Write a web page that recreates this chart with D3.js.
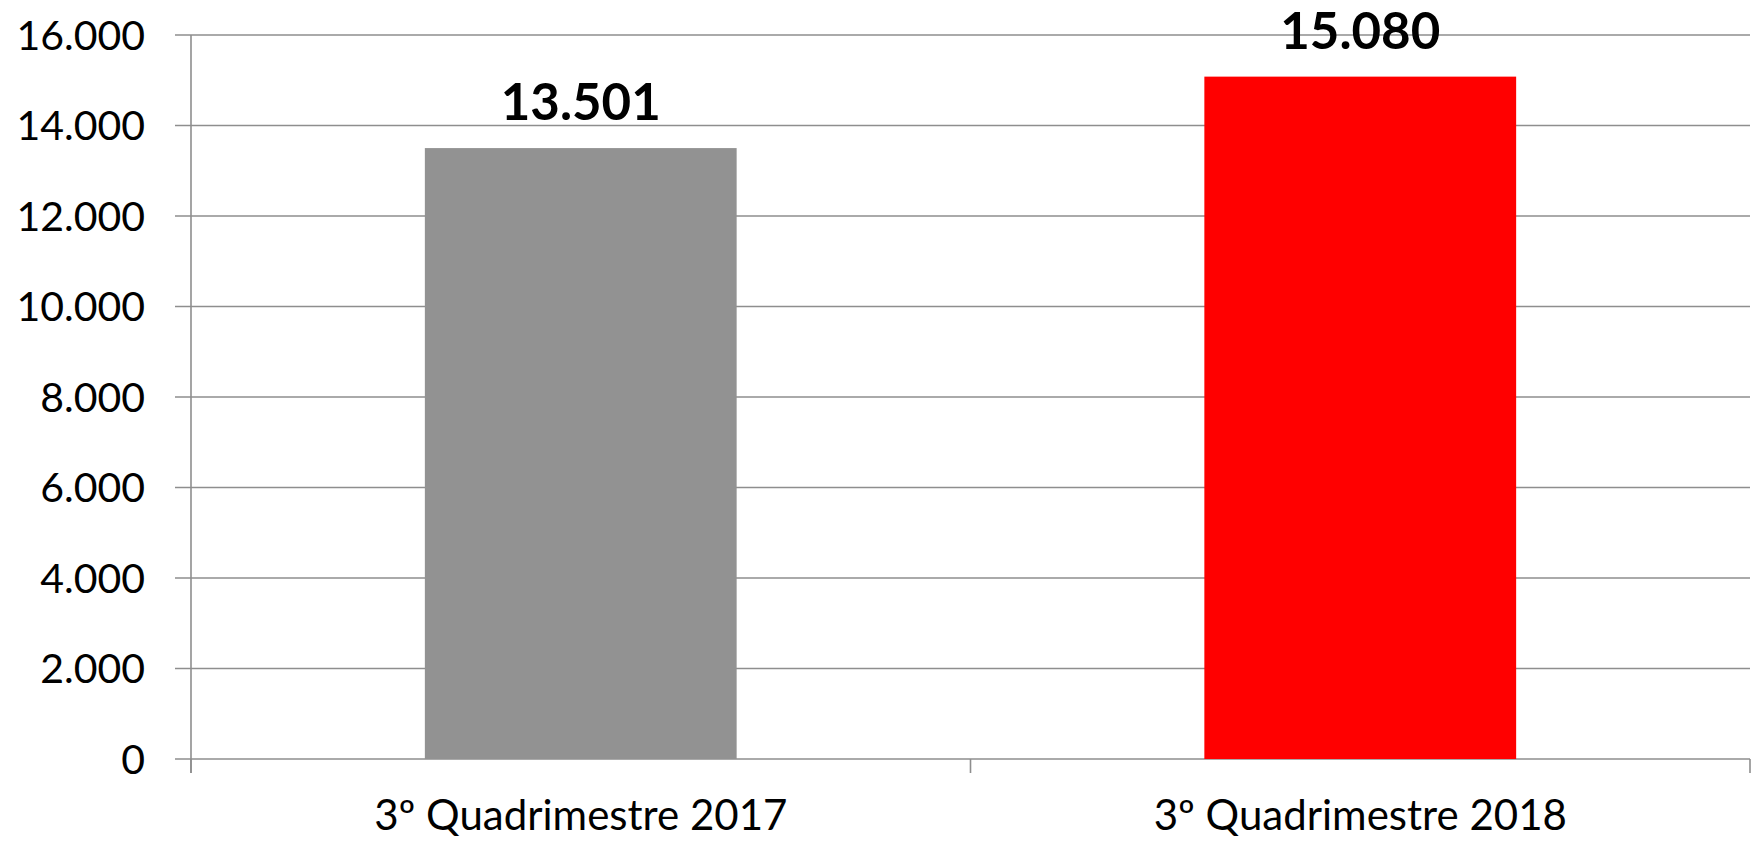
<!DOCTYPE html>
<html>
	<head>
		<meta charset="utf-8">
		<title>Quadrimestre</title>
		<style>
			body {
				margin: 0;
				background: #fff;
			}
			text {
				font-family: Lato, "Open Sans", sans-serif;
				fill: #000;
			}
			.grid line, .axis line {
				stroke: #8e8e8e;
				stroke-width: 1.6;
			}
		</style>
	</head>
	<body>
		<script src="https://cdnjs.cloudflare.com/ajax/libs/d3/7.8.5/d3.min.js"></script>
		<script>
			var categories = ["3º Quadrimestre 2017", "3º Quadrimestre 2018"];
			var values = [13501, 15080];
			var barColors = ["#929292", "#ff0000"];
			var yTicks = [0, 2000, 4000, 6000, 8000, 10000, 12000, 14000, 16000];

			var width = 1757;
			var height = 841;
			var margin = {top: 35, right: 7, bottom: 82, left: 191};
			var innerW = width - margin.left - margin.right;
			var innerH = height - margin.top - margin.bottom;

			var fmt = d3.formatLocale({decimal: ",", thousands: ".", grouping: [3], currency: ["", ""]}).format(",d");

			var svg = d3.select('body').append('svg')
						.attr('width', width)
						.attr('height', height);
			var g = svg.append('g')
						.attr('transform', 'translate(' + margin.left + ',' + margin.top + ')');

			var x = d3.scaleBand()
						.domain(categories)
						.range([0, innerW])
						.paddingInner(0.6)
						.paddingOuter(0.3);
			var y = d3.scaleLinear()
						.domain([0, 16000])
						.range([innerH, 0]);

			// horizontal grid lines, they also stick out left as ticks
			g.append('g').attr('class', 'grid')
				.selectAll('line').data(yTicks).enter().append('line')
				.attr('x1', -16)
				.attr('x2', innerW)
				.attr('y1', function(d) { return y(d); })
				.attr('y2', function(d) { return y(d); });

			// y axis line
			g.append('g').attr('class', 'axis')
				.append('line')
				.attr('x1', 0).attr('x2', 0)
				.attr('y1', 0).attr('y2', innerH + 14);

			// y labels
			g.append('g').selectAll('text').data(yTicks).enter().append('text')
				.attr('x', -46)
				.attr('y', function(d) { return y(d); })
				.attr('dy', '0.36em')
				.attr('text-anchor', 'end')
				.style('font-size', '41px')
				.text(function(d) { return fmt(d); });

			// x axis ticks at the band boundaries
			var xb = g.append('g').attr('class', 'axis');
			xb.selectAll('line').data([0, 1, 2]).enter().append('line')
				.attr('x1', function(i) { return i * x.step(); })
				.attr('x2', function(i) { return i * x.step(); })
				.attr('y1', innerH)
				.attr('y2', innerH + 14);

			// bars
			g.selectAll('rect.bar').data(values).enter().append('rect')
				.attr('class', 'bar')
				.attr('x', function(d, i) { return x(categories[i]); })
				.attr('width', x.bandwidth())
				.attr('y', function(d) { return y(d); })
				.attr('height', function(d) { return innerH - y(d); })
				.attr('fill', function(d, i) { return barColors[i]; });

			// bar value labels
			g.selectAll('text.val').data(values).enter().append('text')
				.attr('class', 'val')
				.attr('x', function(d, i) { return x(categories[i]) + x.bandwidth() / 2; })
				.attr('y', function(d) { return y(d) - 28; })
				.attr('text-anchor', 'middle')
				.style('font-size', '51px')
				.style('font-weight', 'bold')
				.text(function(d) { return fmt(d); });

			// category labels
			g.selectAll('text.cat').data(categories).enter().append('text')
				.attr('class', 'cat')
				.attr('x', function(d) { return x(d) + x.bandwidth() / 2; })
				.attr('y', innerH + 71)
				.attr('text-anchor', 'middle')
				.style('font-size', '42px')
				.text(function(d) { return d; });
		</script>
	</body>
</html>
